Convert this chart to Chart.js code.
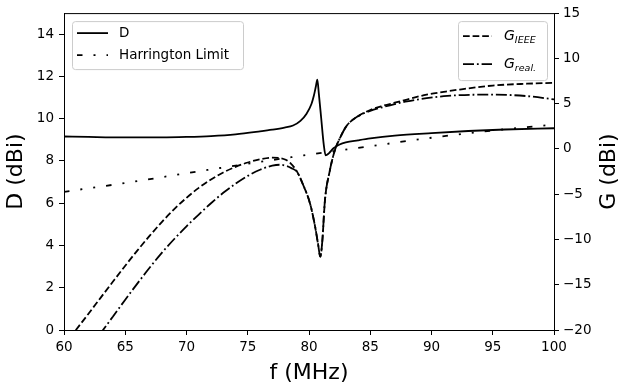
<!DOCTYPE html>
<html>
<head>
<meta charset="utf-8">
<script src="https://cdn.jsdelivr.net/npm/chart.js@4"></script>
<style>
  html, body { margin: 0; padding: 0; background: #fff; }
  #wrap { width: 622px; height: 387px; }
</style>
</head>
<body>
<div id="wrap"><canvas id="chart" width="622" height="387"></canvas></div>
<script>
// values
const FREQ_D = [60, 62, 65, 68, 70, 72, 74, 76, 77, 78, 78.7, 79.3, 79.8, 80.2, 80.4, 80.55, 80.68,
  80.8, 81.0, 81.2, 81.36, 81.6, 82, 82.5, 83, 84, 85, 87, 90, 93, 96, 100];
const D_DBI = [9.16, 9.14, 9.12, 9.12, 9.14, 9.18, 9.26, 9.4, 9.48, 9.58, 9.68, 9.9, 10.24, 10.7, 11.1, 11.5, 11.85,
  11.2, 10.0, 8.8, 8.27, 8.35, 8.6, 8.78, 8.88, 8.98, 9.07, 9.2, 9.32, 9.42, 9.49, 9.55];

const FREQ_HARRINGTON = [60, 65, 70, 75, 80, 85, 90, 95, 100];
const HARRINGTON_DBI = [6.54, 6.96, 7.42, 7.87, 8.3, 8.7, 9.1, 9.44, 9.72];

const FREQ_G_IEEE = [60, 61, 62, 63, 64, 65, 66, 67, 68, 69, 70, 71, 72, 73, 74, 75, 76, 77, 77.6, 78.1, 78.5,
  79, 79.5, 80.1, 80.5, 80.75, 80.92, 81.08, 81.3, 81.7, 82.1, 82.6, 83.1, 84, 85, 86, 87, 88, 89.6, 91, 92.3,
  95, 97.8, 100];
const G_IEEE_DBI = [-21.7, -19.95, -18.2, -16.42, -14.65, -12.9, -11.2, -9.58, -8.05, -6.65, -5.4, -4.3, -3.38,
  -2.6, -1.98, -1.5, -1.15, -0.97, -1.0, -1.2, -1.6, -2.45, -3.9, -6.1, -8.6, -10.6, -11.9, -10.3, -5.7, -2.4,
  -0.2, 1.4, 2.6, 3.6, 4.3, 4.75, 5.1, 5.45, 6.0, 6.3, 6.56, 7.0, 7.2, 7.3];

const FREQ_G_REAL = [62, 63, 64, 65, 66, 67, 68, 69, 70, 71, 72, 73, 74, 75, 76, 77, 77.6, 78.2, 78.6, 79,
  79.5, 80.1, 80.5, 80.75, 80.92, 81.08, 81.3, 81.7, 82.1, 82.6, 83.1, 84, 85, 86, 87, 88, 89.6, 91, 92.3, 95,
  97.8, 100];
const G_REAL_DBI = [-22.2, -20.35, -18.5, -16.65, -14.85, -13.1, -11.45, -9.95, -8.55, -7.25, -6.0, -4.85,
  -3.85, -2.98, -2.3, -1.85, -1.75, -1.9, -2.15, -2.5, -3.9, -6.1, -8.6, -10.6, -11.9, -10.3, -5.7, -2.4,
  -0.2, 1.4, 2.6, 3.6, 4.2, 4.6, 4.95, 5.25, 5.6, 5.82, 5.94, 6.0, 5.83, 5.47];

const X_TICKS = [60, 65, 70, 75, 80, 85, 90, 95, 100];
const D_TICKS = [0, 2, 4, 6, 8, 10, 12, 14];
const G_TICKS = [-20, -15, -10, -5, 0, 5, 10, 15];

const FONT = 'DejaVu Sans';
const LW = 1.8;

function pts(xs, ys) {
  return xs.map((x, i) => ({ x, y: ys[i] }));
}

const datasets = [
  { label: 'D', data: pts(FREQ_D, D_DBI), yAxisID: 'yD', borderDash: [] },
  { label: 'Harrington Limit', data: pts(FREQ_HARRINGTON, HARRINGTON_DBI), yAxisID: 'yD',
    borderDash: [5.5, 11, 2, 11, 2, 11] },
  { label: 'IEEE', data: pts(FREQ_G_IEEE, G_IEEE_DBI), yAxisID: 'yG', borderDash: [6.7, 2.9] },
  { label: 'real.', data: pts(FREQ_G_REAL, G_REAL_DBI), yAxisID: 'yG', borderDash: [11, 2.9, 1.8, 2.9] },
].map(ds => ({
  ...ds,
  borderColor: '#000',
  borderWidth: LW,
  pointRadius: 0,
  fill: false,
  cubicInterpolationMode: 'monotone',
}));

function axisGrid() {
  return { display: true, drawOnChartArea: false, drawTicks: true, tickLength: 5, color: '#000', tickWidth: 1 };
}

// top edge of the box (the axes draw the other three sides)
const framePlugin = {
  id: 'frame',
  afterDatasetsDraw(chart) {
    const { ctx, chartArea: a } = chart;
    ctx.save();
    ctx.strokeStyle = '#000';
    ctx.lineWidth = 1;
    ctx.beginPath();
    ctx.moveTo(a.left, a.top + 0.5);
    ctx.lineTo(a.right, a.top + 0.5);
    ctx.stroke();
    ctx.restore();
  }
};

function legendBox(ctx, x, y, w, h) {
  ctx.beginPath();
  ctx.roundRect(x + 0.5, y + 0.5, w, h, 3);
  ctx.fillStyle = 'rgba(255,255,255,0.8)';
  ctx.fill();
  ctx.strokeStyle = '#ccc';
  ctx.lineWidth = 1;
  ctx.stroke();
}

function sample(ctx, ds, x0, x1, y) {
  ctx.save();
  ctx.strokeStyle = ds.borderColor;
  ctx.lineWidth = ds.borderWidth;
  ctx.setLineDash(ds.borderDash);
  ctx.beginPath();
  ctx.moveTo(x0, y);
  ctx.lineTo(x1, y);
  ctx.stroke();
  ctx.restore();
}

// matplotlib-style legends (two boxes) and the right-hand axis title
const overlayPlugin = {
  id: 'overlay',
  afterDraw(chart) {
    const { ctx, chartArea: a } = chart;
    const ds = chart.data.datasets;
    ctx.save();
    ctx.textBaseline = 'middle';
    ctx.fillStyle = '#000';

    // left legend
    const lx = a.left + 8, ly = a.top + 8;
    legendBox(ctx, lx, ly, 171, 48);
    sample(ctx, ds[0], lx + 5, lx + 36, ly + 12);
    sample(ctx, ds[1], lx + 5, lx + 36, ly + 34);
    ctx.font = `13.5px "${FONT}"`;
    ctx.fillStyle = '#000';
    ctx.textAlign = 'left';
    ctx.fillText(ds[0].label, lx + 47, ly + 12);
    ctx.fillText(ds[1].label, lx + 47, ly + 34);

    // right legend
    const rw = 89, rh = 59;
    const rx = a.right - 7 - rw, ry = a.top + 8;
    legendBox(ctx, rx, ry, rw, rh);
    const rows = [ry + 15, ry + 43];
    [ds[2], ds[3]].forEach((d, i) => {
      sample(ctx, d, rx + 5, rx + 34, rows[i]);
      ctx.fillStyle = '#000';
      ctx.font = `italic 14px "${FONT}"`;
      ctx.fillText('G', rx + 46, rows[i]);
      const gw = ctx.measureText('G').width;
      ctx.font = `italic 9.5px "${FONT}"`;
      ctx.fillText(d.label, rx + 46 + gw, rows[i] + 4);
    });

    // right axis title, reading bottom to top like the left one
    ctx.translate(609, (a.top + a.bottom) / 2);
    ctx.rotate(-Math.PI / 2);
    ctx.textAlign = 'center';
    ctx.font = `22px "${FONT}"`;
    ctx.fillText('G (dBi)', 0, 0);
    ctx.restore();
  }
};

new Chart(document.getElementById('chart'), {
  type: 'line',
  data: { datasets },
  options: {
    responsive: false,
    animation: false,
    devicePixelRatio: 1,
    layout: { padding: { top: 11, left: 0, right: 0, bottom: 0 } },
    plugins: {
      legend: { display: false },
      tooltip: { enabled: false },
    },
    scales: {
      x: {
        type: 'linear',
        min: 60,
        max: 100,
        afterBuildTicks: s => { s.ticks = X_TICKS.map(v => ({ value: v })); },
        afterFit: s => { s.height = 57; },
        grid: axisGrid(),
        border: { display: true, color: '#000', width: 1 },
        ticks: { color: '#000', font: { family: FONT, size: 13.5 }, padding: 4, maxRotation: 0 },
        title: { display: true, text: 'f (MHz)', color: '#000', font: { family: FONT, size: 22 },
          padding: { top: 0, bottom: 1 } },
      },
      yD: {
        type: 'linear',
        position: 'left',
        min: 0,
        max: 15,
        afterBuildTicks: s => { s.ticks = D_TICKS.map(v => ({ value: v })); },
        afterFit: s => { s.width = 64; },
        grid: axisGrid(),
        border: { display: true, color: '#000', width: 1 },
        ticks: { color: '#000', font: { family: FONT, size: 13.5 }, padding: 5 },
        title: { display: true, text: 'D (dBi)', color: '#000', font: { family: FONT, size: 22 },
          padding: { top: 3, bottom: 0 } },
      },
      yG: {
        type: 'linear',
        position: 'right',
        min: -20,
        max: 15,
        afterBuildTicks: s => { s.ticks = G_TICKS.map(v => ({ value: v })); },
        afterFit: s => { s.width = 68; },
        grid: axisGrid(),
        border: { display: true, color: '#000', width: 1 },
        ticks: { color: '#000', font: { family: FONT, size: 13.5 }, padding: 4,
          callback: v => String(v).replace('-', '\u2212') },
      },
    },
  },
  plugins: [framePlugin, overlayPlugin],
});
</script>
</body>
</html>
